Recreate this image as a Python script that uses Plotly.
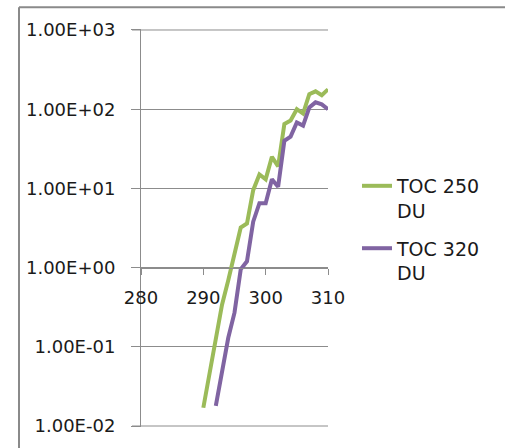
import plotly.graph_objects as go

# Wavelength grid (nm) and irradiance-ratio values for two total ozone columns
wl_250 = [290, 291, 292, 293, 294, 295, 296, 297, 298, 299, 300,
          301, 302, 303, 304, 305, 306, 307, 308, 309, 310]
toc_250 = [0.017, 0.048, 0.135, 0.34, 0.69, 1.5, 3.2, 3.6, 9.5, 15.0, 13.0,
           25.0, 19.0, 65.0, 72.0, 100.0, 88.0, 155.0, 168.0, 150.0, 178.0]

wl_320 = [292, 293, 294, 295, 296, 297, 298, 299, 300,
          301, 302, 303, 304, 305, 306, 307, 308, 309, 310]
toc_320 = [0.018, 0.05, 0.13, 0.27, 0.95, 1.2, 3.8, 6.5, 6.5,
           13.0, 10.5, 40.0, 45.0, 68.0, 62.0, 105.0, 122.0, 115.0, 100.0]

series_names = ["TOC 250<br>DU", "TOC 320<br>DU"]
y_tick_vals = [0.01, 0.1, 1, 10, 100, 1000]
y_tick_text = ["1.00E-02", "1.00E-01", "1.00E+00", "1.00E+01", "1.00E+02", "1.00E+03"]
x_tick_vals = [280, 290, 300, 310]

GREEN = "#9BBB59"
PURPLE = "#8064A2"
GRID = "#8c8c8c"
FONT = "DejaVu Sans"

fig = go.Figure()
fig.add_trace(go.Scatter(x=wl_250, y=toc_250, mode="lines", name=series_names[0],
                         legendgroup="toc250", line=dict(color=GREEN, width=4)))
fig.add_trace(go.Scatter(x=wl_320, y=toc_320, mode="lines", name=series_names[1],
                         legendgroup="toc320", line=dict(color=PURPLE, width=4)))

W, H = 505, 448
ML, MR, MT, MB = 141, 177, 29, 18
pw = W - ML - MR
ph = H - MT - MB

# A little slack on the log range keeps the end decades just inside the plot
LOG_PAD = 0.0125
Y_LO, Y_HI = -2 - LOG_PAD, 3 + LOG_PAD


def px_x(p):
    return (p - ML) / pw


def px_y(p):
    return (H - MB - p) / ph


def decade_y(d):
    return (d - Y_LO) / (Y_HI - Y_LO)


# Gridlines for the first and last decade, drawn as paper-level lines
edge_lines = [
    dict(type="path", xref="paper", yref="paper",
         path=f"M {px_x(132)},{decade_y(d)} L 1,{decade_y(d)}",
         line=dict(color=GRID, width=1))
    for d in (-2, 3)
]

# Chart frame on the left and top
frame_lines = [
    dict(type="line", xref="paper", yref="paper",
         x0=px_x(19), x1=px_x(W + 20), y0=px_y(7), y1=px_y(7),
         line=dict(color="#8a8a8a", width=2)),
    dict(type="line", xref="paper", yref="paper",
         x0=px_x(19), x1=px_x(19), y0=px_y(7), y1=px_y(H + 20),
         line=dict(color="#8a8a8a", width=2)),
]

fig.update_layout(
    width=W, height=H,
    margin=dict(l=ML, r=MR, t=MT, b=MB),
    paper_bgcolor="white", plot_bgcolor="white",
    font=dict(family=FONT, size=17, color="#1a1a1a"),
    showlegend=True,
    legend=dict(x=px_x(357), y=px_y(168), xanchor="left", yanchor="top",
                font=dict(size=19, family=FONT, color="#1a1a1a"),
                valign="top", traceorder="grouped", tracegroupgap=10,
                bgcolor="rgba(0,0,0,0)"),
    xaxis=dict(range=[280, 310], tickvals=x_tick_vals, ticks="outside", ticklen=6,
               tickcolor=GRID, showgrid=False, zeroline=False, showline=True,
               linecolor=GRID, linewidth=1, anchor="free",
               position=decade_y(0),
               ticklabelstandoff=8, tickfont=dict(size=18)),
    yaxis=dict(type="log", range=[Y_LO, Y_HI],
               tickvals=y_tick_vals, ticktext=y_tick_text,
               ticks="outside", ticklen=9, tickcolor=GRID, showgrid=True,
               gridcolor=GRID, gridwidth=1, zeroline=False, showline=True,
               linecolor=GRID, linewidth=1, ticklabelstandoff=12,
               tickfont=dict(size=18)),
    shapes=edge_lines + frame_lines,
)

fig.write_html("out.html")
